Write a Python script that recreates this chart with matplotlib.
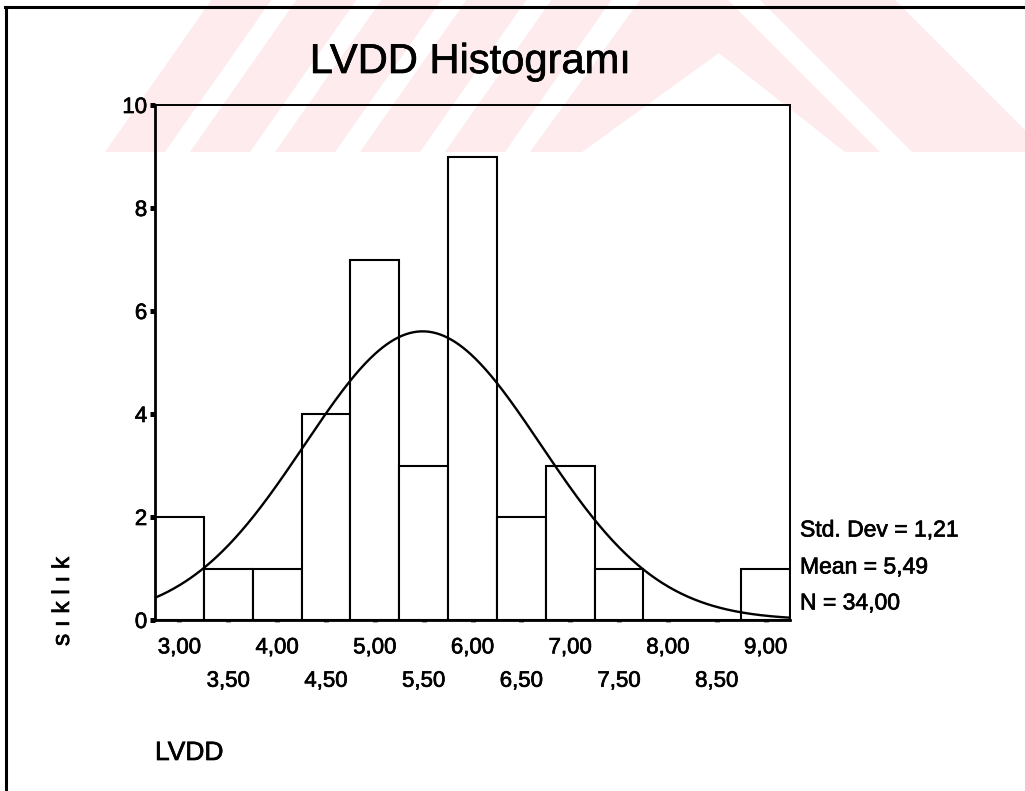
import numpy as np
import matplotlib
matplotlib.use("Agg")
import matplotlib.pyplot as plt
import matplotlib.patheffects as pe
from matplotlib.patches import Polygon
from matplotlib.lines import Line2D

plt.rcParams['font.family'] = ['Liberation Sans', 'DejaVu Sans']

# data
bin_centers = [3.00, 3.50, 4.00, 4.50, 5.00, 5.50, 6.00, 6.50, 7.00, 7.50, 8.00, 8.50, 9.00]
counts = [2, 1, 1, 4, 7, 3, 9, 2, 3, 1, 0, 0, 1]
major_ticks = [3.0, 4.0, 5.0, 6.0, 7.0, 8.0, 9.0]
minor_ticks = [3.5, 4.5, 5.5, 6.5, 7.5, 8.5]
y_ticks = [0, 2, 4, 6, 8, 10]
std_dev = 1.21
mean = 5.49
n = 34.00
bin_width = 0.5

W, H = 1025, 791
fig = plt.figure(figsize=(W/100, H/100), dpi=100)
heavy = [pe.withStroke(linewidth=0.5, foreground='black')]

def fp(x, y):
    return (x/W, 1 - y/H)

# faint watermark in the top band
pink = '#fdebee'
shapes = []
for x0 in [105, 190, 275, 360, 445]:
    shapes.append([(x0, 152), (x0+60, 152), (x0+60+0.7*152, 0), (x0+0.7*152, 0)])
shapes.append([(530, 152), (582, 152), (719, 53), (845, 152), (880, 152), (728, 0), (640, 0)])
shapes.append([(760, 0), (895, 0), (1047, 152), (912, 152)])
for s in shapes:
    fig.patches.append(Polygon([fp(x, y) for x, y in s], closed=True,
                               transform=fig.transFigure, facecolor=pink,
                               edgecolor='none', zorder=-5))

# frame (only top and left edges visible)
fig.lines.append(Line2D([5/W, 1], [1-7/H, 1-7/H], transform=fig.transFigure, color='black', lw=2.2))
fig.lines.append(Line2D([6/W, 6/W], [1-7/H, 0], transform=fig.transFigure, color='black', lw=2.2))

ax = fig.add_axes([155/W, 1-620/H, 635/W, 515/H])
ax.set_zorder(2)
ax.patch.set_alpha(0)

ax.bar(bin_centers, counts, width=bin_width, color='white', edgecolor='black', linewidth=1.5, zorder=2)

xs = np.linspace(2.75, 9.25, 500)
curve = n*bin_width/(std_dev*np.sqrt(2*np.pi))*np.exp(-0.5*((xs-mean)/std_dev)**2)
ax.plot(xs, curve, color='black', lw=1.7, zorder=3)

ax.set_xlim(2.75, 9.25)
ax.set_ylim(0, 10)

ax.set_yticks(y_ticks)
ax.set_yticklabels([str(v) for v in y_ticks])
ax.tick_params(axis='y', direction='out', length=3.6, width=3.6, pad=2, labelsize=16)

ax.set_xticks(major_ticks)
ax.set_xticklabels([f"{v:.2f}".replace('.', ',') for v in major_ticks])
ax.set_xticks(minor_ticks, minor=True)
ax.set_xticklabels([f"{v:.2f}".replace('.', ',') for v in minor_ticks], minor=True)
ax.tick_params(axis='x', which='major', direction='out', length=1.5, width=3.5, color='#555555', pad=11, labelsize=16)
ax.tick_params(axis='x', which='minor', direction='out', length=1.5, width=3.5, color='#555555', pad=35, labelsize=16)

for lab in ax.get_xticklabels() + ax.get_xticklabels(minor=True) + ax.get_yticklabels():
    lab.set_path_effects(heavy)

for side in ['top', 'right']:
    ax.spines[side].set_linewidth(1.4)
for side in ['left', 'bottom']:
    ax.spines[side].set_linewidth(2.0)

fig.text(470/W, 1-73/H, 'LVDD Histogramı', fontsize=30, ha='center', va='baseline', path_effects=heavy)
fig.text(155/W, 1-760/H, 'LVDD', fontsize=19, ha='left', va='baseline', path_effects=heavy)
fig.text(63/W, 1-646/H, 's ı k l ı k', fontsize=17.5, rotation=90, ha='center', va='bottom', path_effects=heavy)

stats = [f"Std. Dev = {std_dev:.2f}", f"Mean = {mean:.2f}", f"N = {n:.2f}"]
for txt, y in zip(stats, [530, 567, 603]):
    fig.text(800/W, 1-y/H, txt.replace('.', ',').replace('Std, Dev', 'Std. Dev'),
             fontsize=16.5, ha='left', va='center', path_effects=heavy)

fig.savefig('out.png', dpi=100)
